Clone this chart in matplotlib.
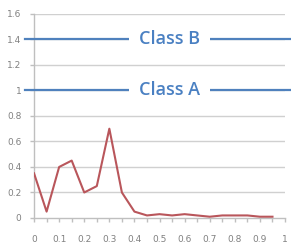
import matplotlib
matplotlib.use("Agg")
import matplotlib.pyplot as plt
import numpy as np

# data
x_vals = [0, 0.05, 0.1, 0.15, 0.2, 0.25, 0.3, 0.35, 0.4, 0.45,
          0.5, 0.55, 0.6, 0.65, 0.7, 0.75, 0.8, 0.85, 0.9, 0.95]
y_vals = [0.35, 0.05, 0.40, 0.45, 0.20, 0.25, 0.70, 0.20, 0.05, 0.02,
          0.03, 0.02, 0.03, 0.02, 0.01, 0.02, 0.02, 0.02, 0.01, 0.01]
class_labels = ["Class A", "Class B"]
class_levels = [1.0, 1.4]
x_ticks = [0, 0.1, 0.2, 0.3, 0.4, 0.5, 0.6, 0.7, 0.8, 0.9, 1]
x_tick_labels = ["0", "0.1", "0.2", "0.3", "0.4", "0.5", "0.6", "0.7", "0.8", "0.9", "1"]
y_ticks = [0, 0.2, 0.4, 0.6, 0.8, 1, 1.2, 1.4, 1.6]
y_tick_labels = ["0", "0.2", "0.4", "0.6", "0.8", "1", "1.2", "1.4", "1.6"]

fig = plt.figure(figsize=(2.91, 2.48), dpi=100)
ax = fig.add_axes([0.117, 0.121, 0.8625, 0.823])

grid_c = "#d0d0d0"
for yv in y_ticks[1:]:
    ax.axhline(yv, color=grid_c, lw=1, zorder=1)

ax.plot(x_vals, y_vals, color="#b9565b", lw=1.5, zorder=3)

# class level lines with labels on white boxes
for lab, lev in zip(class_labels, class_levels):
    ax.plot([-0.035, 1.05], [lev, lev], color="#4f81bd", lw=1.6,
            clip_on=False, zorder=4)
    ax.text(0.54, lev, lab, ha="center", va="center", fontsize=13,
            family="Open Sans", weight="semibold", color="#4a80c2", zorder=5,
            bbox=dict(facecolor="white", edgecolor="none", pad=7))

ax.set_xlim(0, 1)
ax.set_ylim(0, 1.6)
ax.set_xticks(x_ticks)
ax.set_xticklabels(x_tick_labels)
ax.set_xticks(np.arange(0.05, 1.0, 0.1), minor=True)
ax.set_yticks(y_ticks)
ax.set_yticklabels(y_tick_labels)

for s in ["top", "right"]:
    ax.spines[s].set_visible(False)
for s in ["left", "bottom"]:
    ax.spines[s].set_color("#bfbfbf")
    ax.spines[s].set_linewidth(1)

ax.tick_params(axis="both", which="both", colors="#bfbfbf", labelcolor="#808080",
               labelsize=6.5, length=3, width=1)
ax.tick_params(axis="x", pad=9)
ax.tick_params(axis="y", pad=6)

plt.savefig("out.png", dpi=100)
plt.close()
